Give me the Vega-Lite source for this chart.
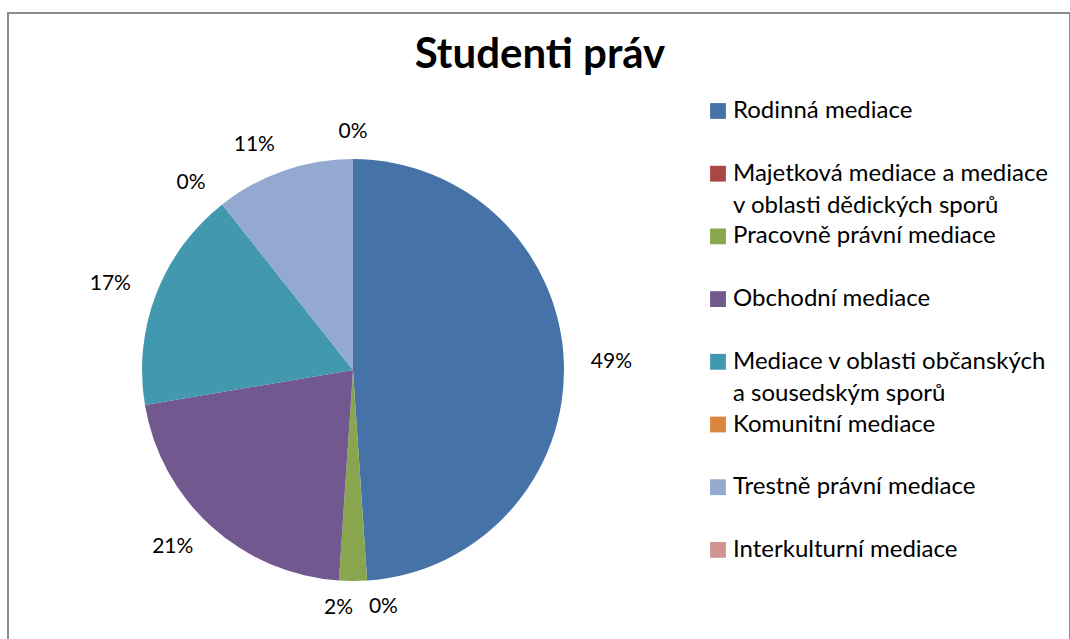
{
  "$schema": "https://vega.github.io/schema/vega-lite/v6.json",
  "autosize": {"type": "none"},
  "padding": {"left": 8, "top": 13, "right": 0, "bottom": 0},
  "width": 1062,
  "height": 640,
  "background": "white",
  "view": {"stroke": "#8c8c8c", "strokeWidth": 2, "fill": "white"},
  "config": {
    "view": {"stroke": "#8c8c8c", "strokeWidth": 2},
    "font": "Lato",
    "style": {"guide-label": {"lineHeight": 32}}
  },
  "title": {
    "text": "Studenti práv",
    "font": "Lato",
    "fontSize": 42,
    "fontWeight": "bold",
    "color": "#000000",
    "anchor": "middle",
    "offset": -56,
    "dy": 41,
    "dx": 1,
    "baseline": "alphabetic"
  },
  "data": {
    "values": [
      {"order": 1, "category": "Rodinná mediace", "count": 23},
      {"order": 2, "category": "Majetková mediace a mediace v oblasti dědických sporů", "count": 0},
      {"order": 3, "category": "Pracovně právní mediace", "count": 1},
      {"order": 4, "category": "Obchodní mediace", "count": 10},
      {"order": 5, "category": "Mediace v oblasti občanských a sousedským sporů", "count": 8},
      {"order": 6, "category": "Komunitní mediace", "count": 0},
      {"order": 7, "category": "Trestně právní mediace", "count": 5},
      {"order": 8, "category": "Interkulturní mediace", "count": 0}
    ]
  },
  "transform": [
    {"joinaggregate": [{"op": "sum", "field": "count", "as": "total"}]},
    {"window": [{"op": "sum", "field": "count", "as": "cum"}], "sort": [{"field": "order"}], "frame": [null, 0]},
    {"calculate": "datum.count / datum.total", "as": "share"},
    {"calculate": "(datum.cum - datum.count / 2) / datum.total", "as": "mid"}
  ],
  "encoding": {
    "theta": {"field": "count", "type": "quantitative", "stack": true},
    "order": {"field": "order", "type": "quantitative"}
  },
  "layer": [
    {
      "mark": {"type": "arc", "outerRadius": 211, "xOffset": -186, "yOffset": 37},
      "encoding": {
        "color": {
          "field": "category",
          "type": "nominal",
          "scale": {
            "domain": [
              "Rodinná mediace",
              "Majetková mediace a mediace v oblasti dědických sporů",
              "Pracovně právní mediace",
              "Obchodní mediace",
              "Mediace v oblasti občanských a sousedským sporů",
              "Komunitní mediace",
              "Trestně právní mediace",
              "Interkulturní mediace"
            ],
            "range": ["#4572A7", "#AA4643", "#89A54E", "#71588F", "#4198AF", "#DB843D", "#93A9CF", "#D19392"]
          },
          "legend": {
            "title": null,
            "orient": "none",
            "legendX": 698,
            "legendY": 86,
            "padding": 0,
            "symbolType": "square",
            "symbolSize": 250,
            "symbolStrokeWidth": 0,
            "symbolOpacity": 1,
            "labelFont": "Lato",
            "labelFontSize": 24,
            "labelColor": "#000000",
            "labelLimit": 500,
            "labelOffset": 3,
            "rowPadding": 6.7,
            "labelExpr": "datum.label == 'Majetková mediace a mediace v oblasti dědických sporů' ? ['Majetková mediace a mediace', 'v oblasti dědických sporů'] : datum.label == 'Mediace v oblasti občanských a sousedským sporů' ? ['Mediace v oblasti občanských', 'a sousedským sporů'] : [datum.label, '']"
          }
        }
      }
    },
    {
      "mark": {
        "type": "text",
        "radius": 238,
        "xOffset": -186,
        "yOffset": 37,
        "fontSize": 21,
        "font": "Lato",
        "color": "#000000",
        "baseline": "middle",
        "align": {"expr": "datum.mid > 0.99 || datum.mid < 0.01 ? 'center' : datum.mid >= 0.5 ? 'right' : 'left'"}
      },
      "encoding": {
        "text": {"field": "share", "type": "quantitative", "format": ".0%"}
      }
    }
  ]
}
